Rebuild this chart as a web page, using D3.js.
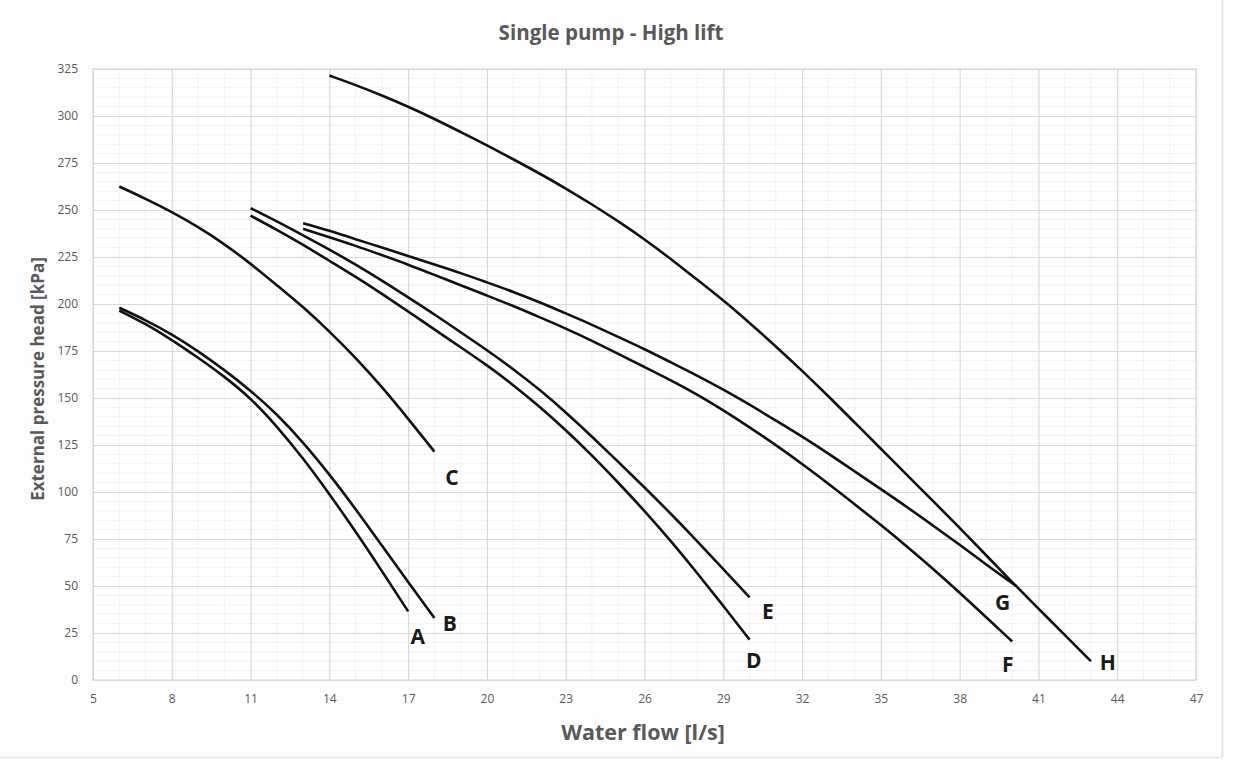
<!DOCTYPE html>
<html><head><meta charset="utf-8">
<script src="https://cdn.jsdelivr.net/npm/d3@7"></script>
<style>
html,body{margin:0;padding:0;background:#fff;}
svg{display:block;}
</style></head>
<body>
<script>
// ---- data ----
const xTicks = [5, 8, 11, 14, 17, 20, 23, 26, 29, 32, 35, 38, 41, 44, 47];
const yTicks = [0, 25, 50, 75, 100, 125, 150, 175, 200, 225, 250, 275, 300, 325];

const curveA_x = [6, 7, 8, 9, 10, 11, 12, 13, 14, 15, 16, 17];
const curveA_y = [196.5, 189.5, 181, 171.5, 161.5, 150, 135, 118, 99, 79, 58, 36.5];

const curveB_x = [6, 7, 8, 9, 10, 11, 12, 13, 14, 15, 16, 17, 18];
const curveB_y = [198, 191.5, 184, 175, 165, 154, 141.5, 126.5, 109.5, 91, 71.5, 52, 33];

const curveC_x = [6, 7, 8, 9, 10, 11, 12, 13, 14, 15, 16, 17, 18];
const curveC_y = [262.5, 256, 249, 241, 232, 221.5, 210, 198.5, 185.5, 171.5, 156, 139, 121.5];

const curveD_x = [11, 12, 13, 14, 15, 16, 17, 18, 19, 20, 21, 22, 23, 24, 25, 26, 27, 28, 29, 30];
const curveD_y = [247, 239.5, 231.5, 223, 214.5, 205.5, 196, 186.5, 177, 167.5, 157, 145.5, 133, 119.5, 105, 90, 74, 57, 39.5, 21.5];

const curveE_x = [11, 12, 13, 14, 15, 16, 17, 18, 19, 20, 21, 22, 23, 24, 25, 26, 27, 28, 29, 30];
const curveE_y = [251, 244, 236.5, 229, 221, 212.5, 203.5, 194.5, 185, 175.5, 165.5, 154.5, 142.5, 129.5, 116, 102.5, 88.5, 74, 59, 44];

const curveF_x = [13, 14, 15, 16, 17, 18, 19, 20, 21, 22, 23, 24, 25, 26, 27, 28, 29, 30, 31, 32, 33, 34, 35, 36, 37, 38, 39, 40];
const curveF_y = [240, 235.5, 231, 226, 221, 215.5, 210, 204.5, 199, 193, 187, 180.5, 173.5, 166.5, 159.5, 152, 143.5, 134.5, 125, 115, 104.5, 93.5, 82.5, 71, 59, 46.5, 33.5, 20.5];

const curveG_x = [13, 14, 15, 16, 17, 18, 19, 20, 21, 22, 23, 24, 25, 26, 27, 28, 29, 30, 31, 32, 33, 34, 35, 36, 37, 38, 39, 40, 40.15];
const curveG_y = [243, 239, 234.5, 230, 225.5, 221, 216.5, 211.5, 206.5, 201, 195, 189, 182.5, 176, 169, 162, 154.5, 146.5, 138, 129.5, 120.5, 111, 101.5, 92, 82, 72, 61.5, 51.5, 50];

const curveH_x = [14, 15, 16, 17, 18, 19, 20, 21, 22, 23, 24, 25, 26, 27, 28, 29, 30, 31, 32, 33, 34, 35, 36, 37, 38, 39, 40, 41, 42, 43];
const curveH_y = [321.5, 316.5, 311, 305, 298.5, 291.5, 284.5, 277, 269.5, 261.5, 253, 244, 234.5, 224, 213, 202, 190, 177.5, 164.5, 151, 137, 123, 109, 95, 81, 66.5, 52, 38, 24, 10];

const labelNames = ["A", "B", "C", "D", "E", "F", "G", "H"];
const labelX = [17.37, 18.59, 18.67, 30.16, 30.7, 39.83, 39.64, 43.64];
const labelY = [23.5, 30.5, 108, 10.8, 36.8, 8.7, 41.7, 9.7];

const titleText = "Single pump - High lift";
const xTitle = "Water flow [l/s]";
const yTitle = "External pressure head [kPa]";

// ---- layout ----
const W = 1234, H = 768;
const M = {left: 93, right: 1196, top: 69, bottom: 680};

const svg = d3.select("body").append("svg").attr("width", W).attr("height", H);
svg.append("rect").attr("width", W).attr("height", H).attr("fill", "#fdfdfd");
svg.append("line").attr("x1", 1222.5).attr("x2", 1222.5).attr("y1", 0).attr("y2", 757).attr("stroke", "#e2e2e2").attr("stroke-width", 1.5);
svg.append("line").attr("x1", 0).attr("x2", 1222.5).attr("y1", 757.5).attr("y2", 757.5).attr("stroke", "#e6e6e6").attr("stroke-width", 1.5);

const x = d3.scaleLinear().domain([5, 47]).range([M.left, M.right]);
const y = d3.scaleLinear().domain([0, 325]).range([M.bottom, M.top]);

const g = svg.append("g");
g.append("rect").attr("x", M.left).attr("y", M.top).attr("width", M.right - M.left).attr("height", M.bottom - M.top).attr("fill", "#fff");

// minor grid
g.append("g").selectAll("line").data(d3.range(5, 47, 1).filter(v => (v - 5) % 3 !== 0))
  .join("line").attr("x1", d => x(d)).attr("x2", d => x(d)).attr("y1", M.top).attr("y2", M.bottom)
  .attr("stroke", "#f2f2f2").attr("stroke-width", 1);
g.append("g").selectAll("line").data(d3.range(5, 325, 5).filter(v => v % 25 !== 0))
  .join("line").attr("y1", d => y(d)).attr("y2", d => y(d)).attr("x1", M.left).attr("x2", M.right)
  .attr("stroke", "#f2f2f2").attr("stroke-width", 1);

// major grid via axes
const gx = g.append("g").attr("transform", `translate(0,${M.bottom})`)
  .call(d3.axisBottom(x).tickValues(xTicks).tickSize(-(M.bottom - M.top)).tickPadding(14));
const gy = g.append("g").attr("transform", `translate(${M.left},0)`)
  .call(d3.axisLeft(y).tickValues(yTicks).tickSize(-(M.right - M.left)).tickPadding(15));
[gx, gy].forEach(a => {
  a.select(".domain").remove();
  a.selectAll(".tick line").attr("stroke", "#d9d9d9").attr("stroke-width", 1.2);
  a.selectAll(".tick text").attr("fill", "#595959").style("font-family", "'Open Sans', sans-serif").style("font-size", "12px");
});
g.append("rect").attr("x", M.left).attr("y", M.top).attr("width", M.right - M.left).attr("height", M.bottom - M.top)
  .attr("fill", "none").attr("stroke", "#d9d9d9").attr("stroke-width", 1.2);

// curves
const curves = [
  [curveA_x, curveA_y], [curveB_x, curveB_y], [curveC_x, curveC_y], [curveD_x, curveD_y],
  [curveE_x, curveE_y], [curveF_x, curveF_y], [curveG_x, curveG_y], [curveH_x, curveH_y]
];
const line = d3.line().x(d => x(d[0])).y(d => y(d[1])).curve(d3.curveBasis);
g.append("g").selectAll("path").data(curves.map(c => c[0].map((v, i) => [v, c[1][i]])))
  .join("path").attr("d", line).attr("fill", "none").attr("stroke", "#111").attr("stroke-width", 2.6)
  .attr("stroke-linecap", "butt");

// labels
g.append("g").selectAll("text").data(labelNames).join("text")
  .attr("x", (d, i) => x(labelX[i])).attr("y", (d, i) => y(labelY[i]))
  .attr("text-anchor", "middle").attr("dominant-baseline", "central")
  .style("font-family", "'Open Sans', sans-serif").style("font-weight", "bold").style("font-size", "21px")
  .attr("fill", "#1a1a1a").text(d => d);

// titles
svg.append("text").attr("x", 611).attr("y", 32).attr("text-anchor", "middle").attr("dominant-baseline", "central")
  .style("font-family", "'Open Sans', sans-serif").style("font-weight", "bold").style("font-size", "20.5px")
  .attr("fill", "#595959").text(titleText);
svg.append("text").attr("x", 643).attr("y", 731).attr("text-anchor", "middle").attr("dominant-baseline", "central")
  .style("font-family", "'Open Sans', sans-serif").style("font-weight", "bold").style("font-size", "21.5px")
  .attr("fill", "#595959").text(xTitle);
svg.append("text").attr("transform", "translate(37,379) rotate(-90)").attr("text-anchor", "middle").attr("dominant-baseline", "central")
  .style("font-family", "'Open Sans', sans-serif").style("font-weight", "bold").style("font-size", "17px")
  .attr("fill", "#595959").text(yTitle);
</script>
</body></html>
